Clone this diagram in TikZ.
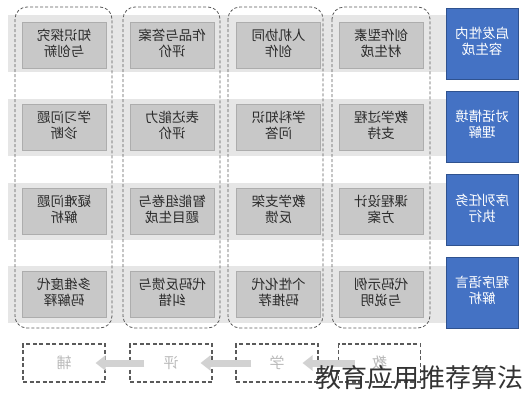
\documentclass[tikz,border=0pt]{standalone}
\usepackage{fontspec}
\usepackage{graphicx}
\newfontfamily\cjk{Noto Sans CJK SC}
\usetikzlibrary{arrows.meta}
\definecolor{bandgray}{HTML}{E6E6E6}
\definecolor{cellgray}{HTML}{C8C8C8}
\definecolor{cellline}{HTML}{ADADAD}
\definecolor{celltext}{HTML}{2A2A2A}
\definecolor{topicblue}{HTML}{4472C4}
\definecolor{topicline}{HTML}{2F528F}
\definecolor{dashgray}{HTML}{5A5A5A}
\newcommand{\flip}[1]{\reflectbox{\begin{tabular}{@{}c@{}}#1\end{tabular}}}
\begin{document}
\begin{tikzpicture}[x=1pt, y=-1pt,
    cell/.style={rectangle, fill=cellgray, draw=cellline, inner sep=0pt,
      minimum width=84pt, minimum height=46pt, text=celltext,
      font=\cjk\fontsize{13.5}{15.5}\selectfont},
    topic/.style={rectangle, fill=topicblue, draw=topicline, inner sep=0pt,
      minimum width=72pt, minimum height=71pt, text=white,
      font=\cjk\fontsize{13.5}{15.5}\selectfont},
    lane/.style={draw=dashgray, dash pattern=on 3pt off 2pt,
      rounded corners=12pt, line width=0.8pt},
    stagebox/.style={rectangle, draw=dashgray, dash pattern=on 4pt off 2.5pt,
      line width=1.1pt, minimum width=82pt, minimum height=38pt,
      inner sep=0pt, text=gray!55, font=\cjk\fontsize{15}{17}\selectfont},
    flow/.style={draw=gray!35, line width=7pt,
      -{Triangle[length=10pt, width=15pt]}}]
  \useasboundingbox (0,0) rectangle (525,400);

  % grey bands behind the rows
  \foreach \y in {43.5, 127, 211, 294.5}
    \fill[bandgray] (8,\y-28.5) rectangle (446,\y+28.5);

  % dashed lanes
  \draw[lane] (15,7) rectangle (112,328);
  \draw[lane] (123,7) rectangle (220,328);
  \draw[lane] (228,7) rectangle (323,328);
  \draw[lane] (332,7) rectangle (430,328);

  \begin{scope}[every node/.style={cell}]
    \node (c11) at (64,45) {\flip{知识探究\\与创新}};
    \node (c12) at (172,45) {\flip{作品与答案\\评价}};
    \node (c13) at (278.5,45) {\flip{人机协同\\创作}};
    \node (c14) at (381,45) {\flip{创作型素\\材生成}};

    \node (c21) at (64,127) {\flip{学习问题\\诊断}};
    \node (c22) at (172,127) {\flip{表达能力\\评价}};
    \node (c23) at (278.5,127) {\flip{学科知识\\问答}};
    \node (c24) at (381,127) {\flip{教学过程\\支持}};

    \node (c31) at (64,211) {\flip{疑难问题\\解析}};
    \node (c32) at (172,211) {\flip{智能组卷与\\题目生成}};
    \node (c33) at (278.5,211) {\flip{教学支架\\反馈}};
    \node (c34) at (381,211) {\flip{课程设计\\方案}};

    \node (c41) at (64,294.5) {\flip{多维度代\\码解释}};
    \node (c42) at (172,294.5) {\flip{代码反馈与\\纠错}};
    \node (c43) at (278.5,294.5) {\flip{个性化代\\码推荐}};
    \node (c44) at (381,294.5) {\flip{代码示例\\与说明}};
  \end{scope}

  \begin{scope}[every node/.style={topic}]
    \node (t1) at (482,43.5) {\flip{启发性内\\容生成}};
    \node (t2) at (482,126.5) {\flip{对话情境\\理解}};
    \node (t3) at (482,210) {\flip{序列任务\\执行}};
    \node (t4) at (482,292.5) {\flip{程序语言\\解析}};
  \end{scope}

  \begin{scope}[every node/.style={stagebox}]
    \node (s1) at (64,363) {\reflectbox{辅}};
    \node (s2) at (171,363) {\reflectbox{评}};
    \node (s3) at (277,363) {\reflectbox{学}};
    \node (s4) at (379.5,363) {\reflectbox{教}};
  \end{scope}

  \begin{scope}[yshift=-6pt]
    \draw[flow] ([xshift=15pt]s2.west) -- ([xshift=-10pt]s1.east);
    \draw[flow] ([xshift=16pt]s3.west) -- ([xshift=-12pt]s2.east);
    \draw[flow] ([xshift=17pt]s4.west) -- ([xshift=-16pt]s3.east);
  \end{scope}

  \node[anchor=east, inner sep=0pt, text=black!80,
    font=\cjk\fontsize{26}{30}\selectfont] (wm) at (524,378) {教育应用推荐算法};
\end{tikzpicture}
\end{document}
